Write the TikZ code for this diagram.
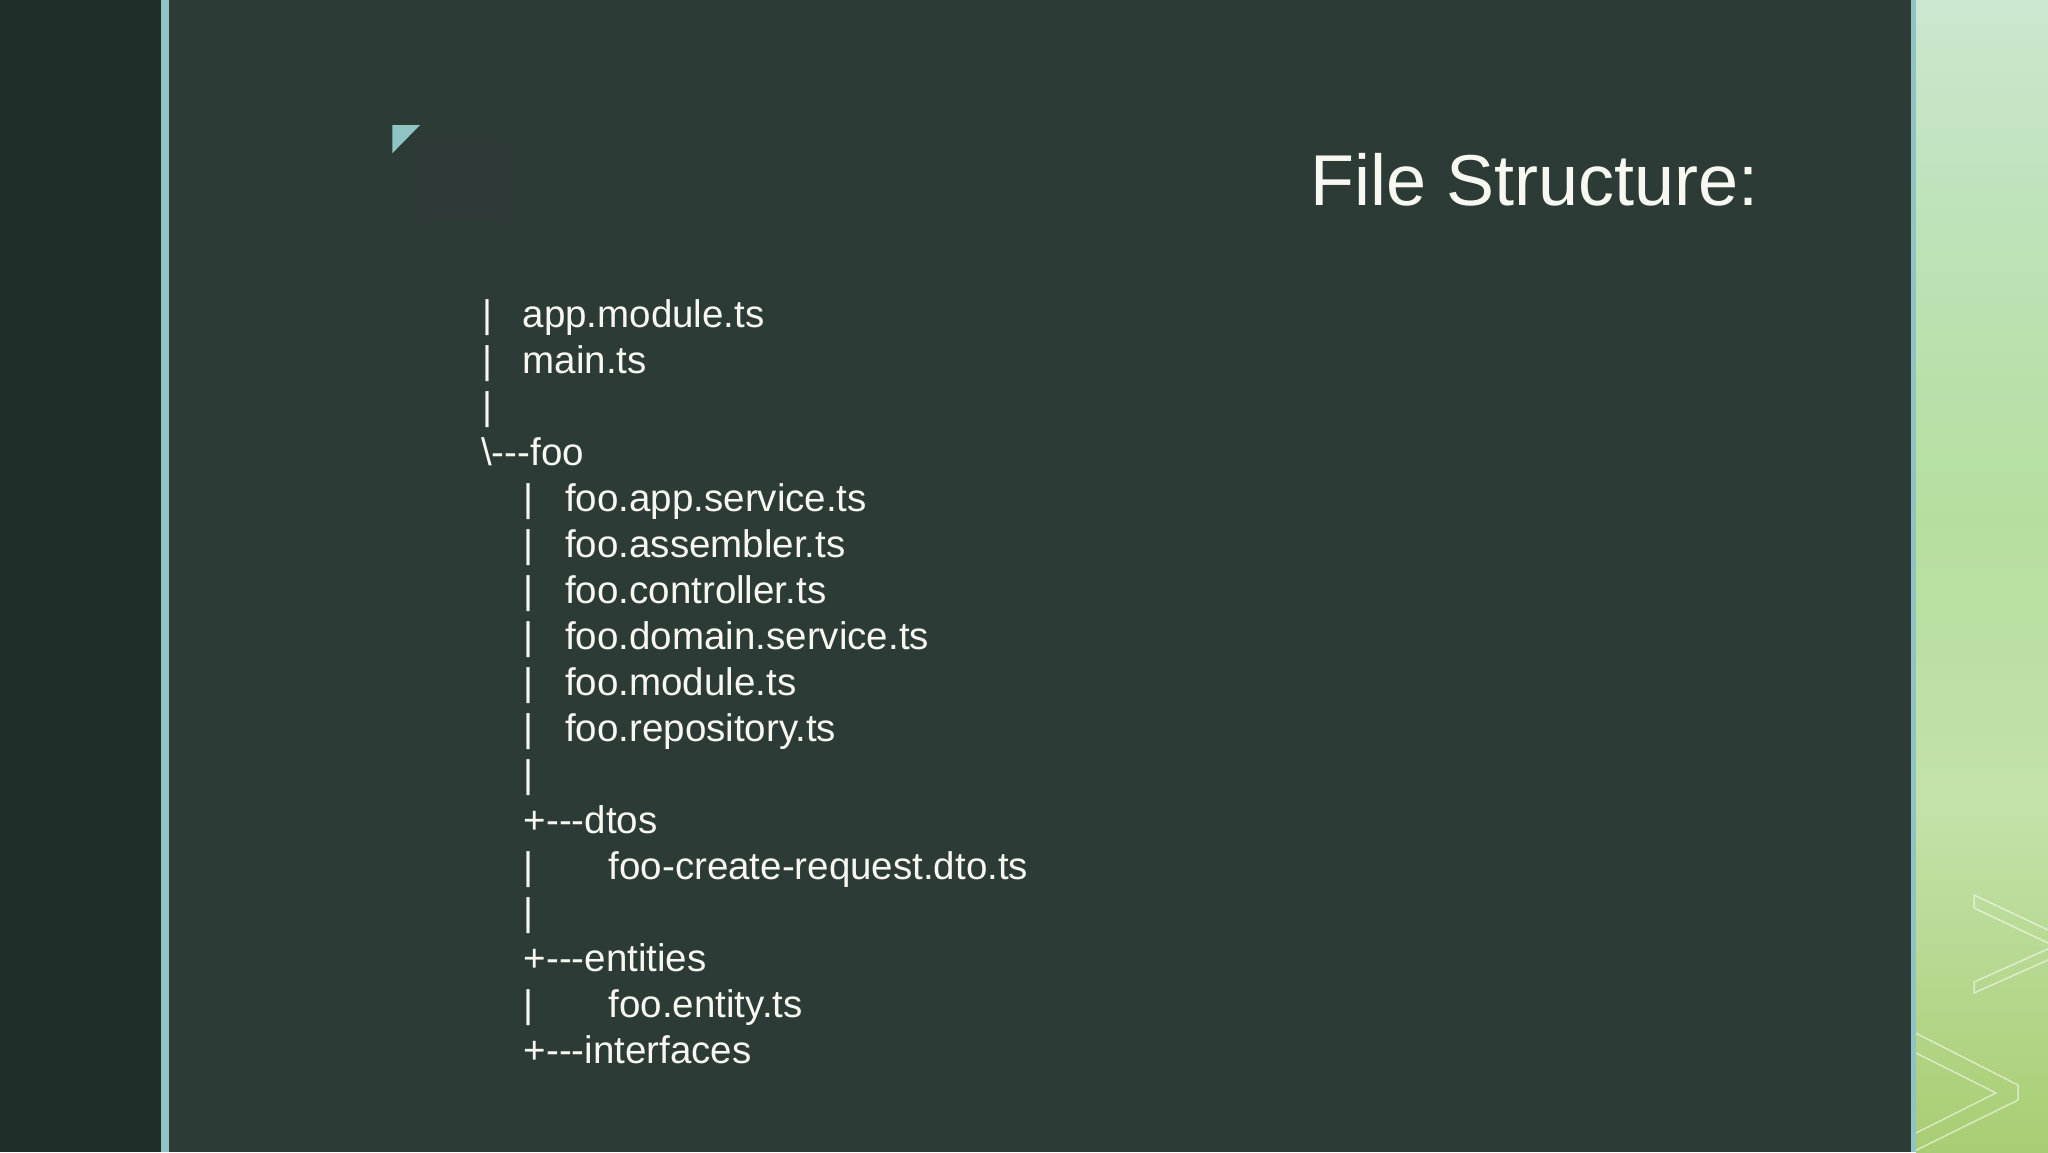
\documentclass[tikz,border=0pt]{standalone}
\usepackage{fontspec}
\setmainfont{Liberation Sans}
\definecolor{leftband}{HTML}{1F2D28}
\definecolor{panel}{HTML}{2C3B35}
\definecolor{teal}{HTML}{90C4C4}
\definecolor{ink}{HTML}{F7F8F2}
\definecolor{shadowsq}{HTML}{2F3937}
\definecolor{gtop}{HTML}{CCE7D0}
\definecolor{gup}{HTML}{BDE2B8}
\definecolor{gmid}{HTML}{B6DF9F}
\definecolor{glow}{HTML}{C3E2A9}
\definecolor{gbot}{HTML}{A9CD73}
\pgfdeclareverticalshading{greenpanel}{100bp}{color(0bp)=(gbot); color(25bp)=(gbot); color(40bp)=(glow); color(52.5bp)=(gmid); color(65bp)=(gup); color(75bp)=(gtop); color(100bp)=(gtop)}
\begin{document}
\begin{tikzpicture}[x=1pt,y=-1pt,
  txt/.style={text=ink,inner sep=0pt,anchor=base west,font=\fontsize{38.5}{46}\selectfont},
  title/.style={text=ink,inner sep=0pt,anchor=base west,font=\fontsize{72}{86}\selectfont},
  chev/.style={draw=white,draw opacity=0.55,line width=1.5pt,line join=round}]
\useasboundingbox (0,0) rectangle (2048,1152);
% backgrounds
\fill[panel] (0,0) rectangle (2048,1152);
\fill[leftband] (0,0) rectangle (161,1152);
\fill[teal] (161,0) rectangle (169,1152);
\shade[shading=greenpanel] (1916,0) rectangle (2048,1152);
\fill[teal] (1911,0) rectangle (1916,1152);
% chevron outlines on the green panel
\begin{scope}
  \clip (1916,0) rectangle (2048,1152);
  \draw[chev] (1974,895) -- (2080.6,945.4) -- (1974,993) -- (1974,982) -- (2054.5,946) -- (1974,908) -- cycle;
  \draw[chev] (1880,1015) -- (2018,1085) -- (2018,1100) -- (1880,1168);
  \draw[chev] (1880,1035) -- (1996,1093) -- (1880,1151);
\end{scope}
% faint square and corner triangle
\fill[shadowsq] (417,140) rectangle (510,222);
\fill[teal] (392.3,125) -- (420,125) -- (392.3,153.3) -- cycle;
% title
\node[title] (ttl) at (1310,205) {File Structure:};
% tree rows
\node[txt] (b0) at (482,327) {|};
\node[txt] (n0) at (522.5,327) {app.module.ts};
\node[txt] (b1) at (482,373.04) {|};
\node[txt] (n1) at (522.5,373.04) {main.ts};
\node[txt] (b2) at (482,419.08) {|};
\node[txt] (n3) at (481,465.12) {\textbackslash-{}-{}-foo};
\node[txt] (b4) at (523.5,511.16) {|};
\node[txt] (n4) at (565,511.16) {foo.app.service.ts};
\node[txt] (b5) at (523.5,557.2) {|};
\node[txt] (n5) at (565,557.2) {foo.assembler.ts};
\node[txt] (b6) at (523.5,603.24) {|};
\node[txt] (n6) at (565,603.24) {foo.controller.ts};
\node[txt] (b7) at (523.5,649.28) {|};
\node[txt] (n7) at (565,649.28) {foo.domain.service.ts};
\node[txt] (b8) at (523.5,695.32) {|};
\node[txt] (n8) at (565,695.32) {foo.module.ts};
\node[txt] (b9) at (523.5,741.36) {|};
\node[txt] (n9) at (565,741.36) {foo.repository.ts};
\node[txt] (b10) at (523.5,787.4) {|};
\node[txt] (n11) at (523.5,833.44) {+-{}-{}-dtos};
\node[txt] (b12) at (523.5,879.48) {|};
\node[txt] (n12) at (608.5,879.48) {foo-create-request.dto.ts};
\node[txt] (b13) at (523.5,925.52) {|};
\node[txt] (n14) at (523.5,971.56) {+-{}-{}-entities};
\node[txt] (b15) at (523.5,1017.6) {|};
\node[txt] (n15) at (608.5,1017.6) {foo.entity.ts};
\node[txt] (n16) at (523.5,1063.64) {+-{}-{}-interfaces};
\end{tikzpicture}
\end{document}
